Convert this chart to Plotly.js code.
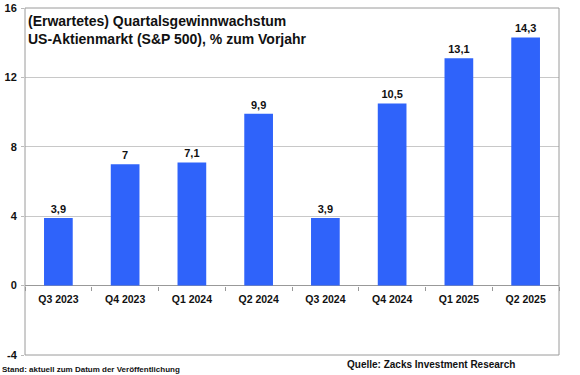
<!DOCTYPE html>
<html><head><meta charset="utf-8">
<script src="https://cdn.plot.ly/plotly-3.0.1.min.js"></script>
<style>html,body{margin:0;padding:0;background:#fff}#c{width:580px;height:375px}</style>
</head><body><div id="c"></div>
<script>
const categories = ["Q3 2023","Q4 2023","Q1 2024","Q2 2024","Q3 2024","Q4 2024","Q1 2025","Q2 2025"];
const growth = [3.9, 7, 7.1, 9.9, 3.9, 10.5, 13.1, 14.3];
const labels = ["3,9","7","7,1","9,9","3,9","10,5","13,1","14,3"];
const yTicks = [-4, 0, 4, 8, 12, 16];
const titleText = "(Erwartetes) Quartalsgewinnwachstum<br>US-Aktienmarkt (S&P 500), % zum Vorjahr";
const footLeft = "Stand: aktuell zum Datum der Veröffentlichung";
const footRight = "Quelle: Zacks Investment Research";

const F = "Liberation Sans, Arial, sans-serif";
const data = [{
  type: "bar", x: categories, y: growth, text: labels,
  textposition: "outside", cliponaxis: false,
  textfont: {family: F, size: 11, color: "#111", weight: 700},
  marker: {color: "#2f63fa", line: {width: 0}},
  width: 0.43, hoverinfo: "none"
}];
const layout = {
  width: 580, height: 375,
  margin: {l: 25, r: 21, t: 8, b: 20},
  paper_bgcolor: "#fff", plot_bgcolor: "#fff",
  showlegend: false,
  font: {family: F, size: 11, color: "#111"},
  xaxis: {
    anchor: "free", position: 0.2, type: "category",
    showline: false, showgrid: false, zeroline: false,
    ticks: "outside", tickson: "boundaries", ticklen: 4, tickcolor: "#999",
    tickfont: {family: F, size: 10.5, color: "#111", weight: 700},
    ticklabelstandoff: 6
  },
  yaxis: {
    range: [-4, 16], tickvals: yTicks, ticktext: yTicks.map(String),
    showgrid: true, gridcolor: "#c8c8c8", gridwidth: 1,
    zeroline: true, zerolinecolor: "#999", zerolinewidth: 1,
    showline: false, ticks: "outside", ticklen: 3, tickcolor: "#bbb",
    tickfont: {family: F, size: 11, color: "#111", weight: 700},
    ticklabelstandoff: 2
  },
  shapes: [{type: "rect", xref: "paper", yref: "paper", x0: 0, x1: 1, y0: 0, y1: 1,
    line: {color: "#9a9a9a", width: 1}, fillcolor: "rgba(0,0,0,0)", layer: "above"}],
  annotations: [
    {text: titleText, xref: "paper", yref: "paper", x: 0.002, y: 0.992, xanchor: "left", yanchor: "top",
     align: "left", showarrow: false, font: {family: F, size: 14, color: "#111", weight: 700}},
    {text: footLeft, xref: "paper", yref: "paper", x: -25/534, y: -0.022, xanchor: "left", yanchor: "top",
     showarrow: false, font: {family: F, size: 8, color: "#111", weight: 700}},
    {text: footRight, xref: "paper", yref: "paper", x: (517-25)/534, y: -0.006, xanchor: "right", yanchor: "top",
     showarrow: false, font: {family: F, size: 10, color: "#111", weight: 700}}
  ]
};
Plotly.newPlot("c", data, layout, {staticPlot: true, displayModeBar: false});
</script></body></html>
